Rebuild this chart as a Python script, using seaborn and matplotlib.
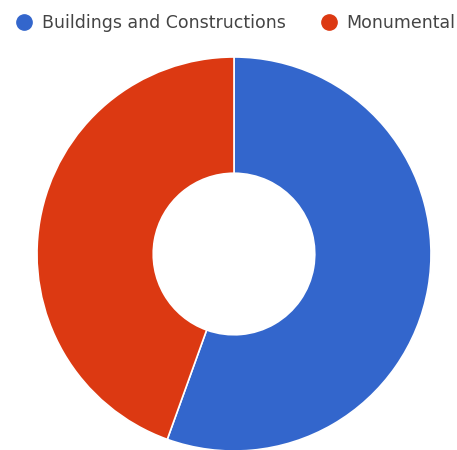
import matplotlib
matplotlib.use("Agg")
import matplotlib.pyplot as plt
from matplotlib.lines import Line2D
import seaborn as sns

# data
labels = ["Buildings and Constructions", "Monumental"]
values = [55.5, 44.5]
colors = ["#3366CC", "#DC3912"]

sns.set_theme(style="white")
plt.rcParams['font.family'] = ['DejaVu Sans']

fig = plt.figure(figsize=(4.57, 4.50), dpi=100)
fig.patch.set_facecolor("white")

# pie axes, square, centred on the donut
ax = fig.add_axes([37 / 457, -1 / 450, 394 / 457, 394 / 450])
ax.pie(values, colors=colors, startangle=90, counterclock=False,
       wedgeprops=dict(width=0.59, edgecolor="white", linewidth=1.2))
ax.set_xlim(-1, 1)
ax.set_ylim(-1, 1)
ax.set_aspect("equal")
ax.axis("off")

# legend on top
handles = [Line2D([0], [0], marker="o", linestyle="", markersize=11,
                  markerfacecolor=c, markeredgecolor=c) for c in colors]
fig.legend(handles, labels, loc="upper left", bbox_to_anchor=(0 / 457, 1 + 2 / 450),
           ncol=2, frameon=False, fontsize=12.5, handletextpad=0.5,
           columnspacing=2.0, handlelength=1.0, labelcolor="#444444")

fig.savefig("out.png", dpi=100)
